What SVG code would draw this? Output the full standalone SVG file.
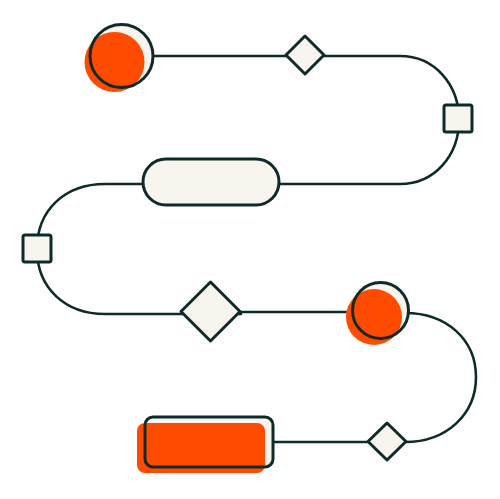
<svg xmlns="http://www.w3.org/2000/svg" width="500" height="499" viewBox="0 0 500 499">
<style>
.ln{fill:none;stroke:#0f2b29;stroke-width:2.6;stroke-linecap:round;stroke-linejoin:round}
.nd{fill:#f8f5ee;stroke:#0f2b29;stroke-width:3;stroke-linejoin:round}
.ol{fill:none;stroke:#0f2b29;stroke-width:3}
.or{fill:#ff4b00}
.cr{fill:#f8f5ee}
</style>
<rect width="500" height="499" fill="#ffffff"/>
<g id="connectors">
<path class="ln" d="M153 56 H400 C435 56 459 85 459 120 C459 155 435 184 400 184 H279"/>
<path class="ln" d="M143 184 H105 C65 184 37 210 37 249 C37 288 65 314 105 314 H241"/>
<path class="ln" d="M241 312 H352"/>
<path class="ln" d="M409 313 H405 C447 313 476 340 476 377 C476 414 447 442 405 442 H273"/>
</g>
<g id="start-circle">
<circle class="cr" cx="122" cy="55" r="31.5"/>
<circle class="or" cx="114.5" cy="62" r="30"/>
<circle class="ol" cx="121.5" cy="56" r="31.5"/>
</g>
<g id="diamond-1"><polygon class="nd" points="305,36 324,55 305,74 286,55"/></g>
<g id="square-1"><rect class="nd" x="444" y="105" width="28" height="27" rx="2"/></g>
<g id="pill"><rect class="nd" x="143" y="159" width="136" height="46" rx="23"/></g>
<g id="square-2"><rect class="nd" x="23" y="235" width="28" height="27" rx="2"/></g>
<g id="diamond-2"><polygon class="nd" points="210.5,282 240,311.5 210.5,341 181,311.5"/></g>
<g id="mid-circle">
<circle class="cr" cx="381" cy="310" r="28"/>
<circle class="or" cx="374" cy="317" r="28"/>
<circle class="ol" cx="380.5" cy="310.5" r="28"/>
</g>
<g id="diamond-3"><polygon class="nd" points="387,423 406,441.5 387,460 368,441.5"/></g>
<g id="end-rect">
<rect class="cr" x="145" y="417" width="128" height="50" rx="8"/>
<rect class="or" x="137" y="423" width="128" height="50" rx="8"/>
<rect class="ol" x="145" y="417" width="128" height="50" rx="8"/>
</g>
</svg>
